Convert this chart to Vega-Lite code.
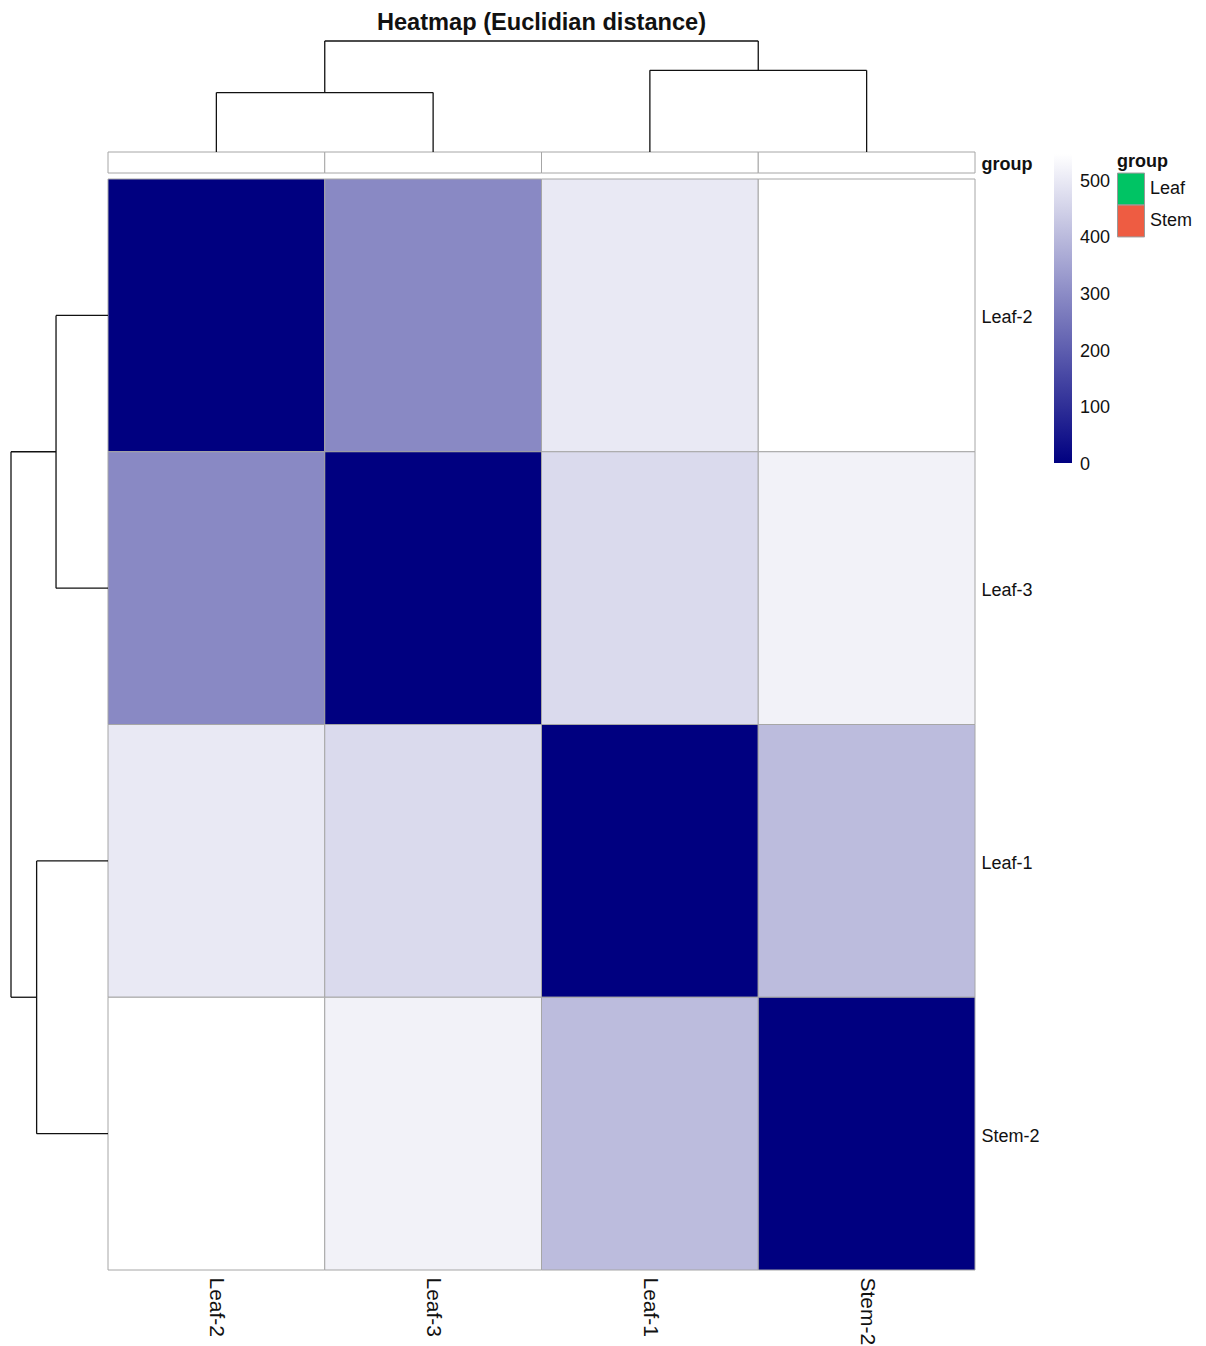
{
  "$schema": "https://vega.github.io/schema/vega-lite/v6.json",
  "width": 867,
  "height": 1091,
  "autosize": {"type": "none"},
  "padding": {"left": 108, "top": 179, "right": 231, "bottom": 76},
  "background": "white",
  "config": {
    "font": "Liberation Sans",
    "view": {"stroke": null},
    "axis": {"labelColor": "#111111", "labelFont": "Liberation Sans"},
    "legend": {"labelColor": "#111111", "titleColor": "#111111"}
  },
  "title": {
    "text": "Heatmap (Euclidian distance)",
    "frame": "group",
    "anchor": "middle",
    "font": "Liberation Sans",
    "fontSize": 23.6,
    "fontWeight": "bold",
    "color": "#111111",
    "offset": 6
  },
  "datasets": {
    "cells": [
      {"col": "Leaf-2", "row": "Leaf-2", "d": 0},
      {"col": "Leaf-3", "row": "Leaf-2", "d": 292},
      {"col": "Leaf-1", "row": "Leaf-2", "d": 498},
      {"col": "Stem-2", "row": "Leaf-2", "d": 545},
      {"col": "Leaf-2", "row": "Leaf-3", "d": 292},
      {"col": "Leaf-3", "row": "Leaf-3", "d": 0},
      {"col": "Leaf-1", "row": "Leaf-3", "d": 466},
      {"col": "Stem-2", "row": "Leaf-3", "d": 517},
      {"col": "Leaf-2", "row": "Leaf-1", "d": 498},
      {"col": "Leaf-3", "row": "Leaf-1", "d": 466},
      {"col": "Leaf-1", "row": "Leaf-1", "d": 0},
      {"col": "Stem-2", "row": "Leaf-1", "d": 401},
      {"col": "Leaf-2", "row": "Stem-2", "d": 545},
      {"col": "Leaf-3", "row": "Stem-2", "d": 517},
      {"col": "Leaf-1", "row": "Stem-2", "d": 401},
      {"col": "Stem-2", "row": "Stem-2", "d": 0}
    ],
    "samples": [
      {"col": "Leaf-2", "group": "Leaf", "track": "group"},
      {"col": "Leaf-3", "group": "Leaf", "track": "group"},
      {"col": "Leaf-1", "group": "Leaf", "track": "group"},
      {"col": "Stem-2", "group": "Stem", "track": "group"}
    ],
    "tree": [
      {"a": 0.5, "a2": 0.5, "h": 0, "h2": 292},
      {"a": 1.5, "a2": 1.5, "h": 0, "h2": 292},
      {"a": 0.5, "a2": 1.5, "h": 292, "h2": 292},
      {"a": 2.5, "a2": 2.5, "h": 0, "h2": 401},
      {"a": 3.5, "a2": 3.5, "h": 0, "h2": 401},
      {"a": 2.5, "a2": 3.5, "h": 401, "h2": 401},
      {"a": 1, "a2": 1, "h": 292, "h2": 545},
      {"a": 3, "a2": 3, "h": 401, "h2": 545},
      {"a": 1, "a2": 3, "h": 545, "h2": 545}
    ]
  },
  "resolve": {
    "scale": {"x": "independent", "y": "independent"},
    "axis": {"x": "independent", "y": "independent"}
  },
  "layer": [
    {
      "data": {"name": "cells"},
      "mark": {"type": "rect", "stroke": "#a6a6a6", "strokeWidth": 1},
      "encoding": {
        "x": {
          "field": "col", "type": "nominal",
          "sort": ["Leaf-2", "Leaf-3", "Leaf-1", "Stem-2"],
          "scale": {"paddingInner": 0, "paddingOuter": 0},
          "axis": {"orient": "bottom", "title": null, "labelAngle": 90, "labelAlign": "left", "labelBaseline": "middle", "domain": false, "ticks": false, "labelPadding": 7, "labelFontSize": 21}
        },
        "y": {
          "field": "row", "type": "nominal",
          "sort": ["Leaf-2", "Leaf-3", "Leaf-1", "Stem-2"],
          "scale": {"paddingInner": 0, "paddingOuter": 0},
          "axis": {"orient": "right", "title": null, "domain": false, "ticks": false, "labelPadding": 6, "labelFontSize": 18, "labelOffset": 3}
        },
        "color": {
          "field": "d", "type": "quantitative",
          "scale": {"domain": [0, 545], "range": ["#000080", "#ffffff"], "interpolate": "rgb", "nice": false, "zero": false},
          "legend": {
            "orient": "none", "legendX": 946, "legendY": -25,
            "direction": "vertical", "title": null,
            "gradientLength": 309, "gradientThickness": 18, "gradientStrokeWidth": 0,
            "labelFontSize": 18, "labelOffset": 8,
            "values": [0, 100, 200, 300, 400, 500],
            "encode": {"labels": {"update": {"baseline": {"value": "middle"}, "dy": {"value": 2}}}}
          }
        }
      }
    },
    {
      "data": {"name": "samples"},
      "mark": {"type": "rect", "fill": "white", "stroke": "#a6a6a6", "strokeWidth": 1},
      "encoding": {
        "x": {
          "field": "col", "type": "nominal",
          "sort": ["Leaf-2", "Leaf-3", "Leaf-1", "Stem-2"],
          "scale": {"paddingInner": 0, "paddingOuter": 0},
          "axis": null
        },
        "y": {
          "field": "track", "type": "nominal",
          "scale": {"range": [-27, -6], "paddingInner": 0, "paddingOuter": 0},
          "axis": {"orient": "right", "title": null, "domain": false, "ticks": false, "labelPadding": 6, "labelFontSize": 18, "labelFontWeight": "bold", "labelOffset": 2}
        }
      }
    },
    {
      "data": {"name": "samples"},
      "mark": {"type": "point", "filled": true, "size": 0, "opacity": 1},
      "encoding": {
        "fill": {
          "field": "group", "type": "nominal",
          "scale": {"domain": ["Leaf", "Stem"], "range": ["#00C464", "#EE5C42"]},
          "legend": {
            "orient": "none", "legendX": 1009, "legendY": -26,
            "title": "group", "titleFontSize": 18, "titleFontWeight": "bold", "titlePadding": 4,
            "symbolType": "M-1,-1.18L1,-1.18L1,1.18L-1,1.18Z",
            "symbolSize": 729, "symbolStrokeColor": "#999999", "symbolStrokeWidth": 1,
            "labelFontSize": 18, "labelOffset": 5, "rowPadding": -4,
            "encode": {"labels": {"update": {"dy": {"value": 4}}}}
          }
        }
      }
    },
    {
      "data": {"name": "tree"},
      "mark": {"type": "rule", "color": "#111111", "strokeWidth": 1.3},
      "encoding": {
        "x": {"field": "a", "type": "quantitative", "scale": {"domain": [0, 4], "nice": false, "zero": false}, "axis": null},
        "x2": {"field": "a2"},
        "y": {"field": "h", "type": "quantitative", "scale": {"domain": [0, 545], "range": [-27, -138], "nice": false, "zero": false}, "axis": null},
        "y2": {"field": "h2"}
      }
    },
    {
      "data": {"name": "tree"},
      "mark": {"type": "rule", "color": "#111111", "strokeWidth": 1.3},
      "encoding": {
        "y": {"field": "a", "type": "quantitative", "scale": {"domain": [0, 4], "range": [0, 1091], "nice": false, "zero": false}, "axis": null},
        "y2": {"field": "a2"},
        "x": {"field": "h", "type": "quantitative", "scale": {"domain": [0, 545], "range": [0, -97], "nice": false, "zero": false}, "axis": null},
        "x2": {"field": "h2"}
      }
    }
  ]
}
